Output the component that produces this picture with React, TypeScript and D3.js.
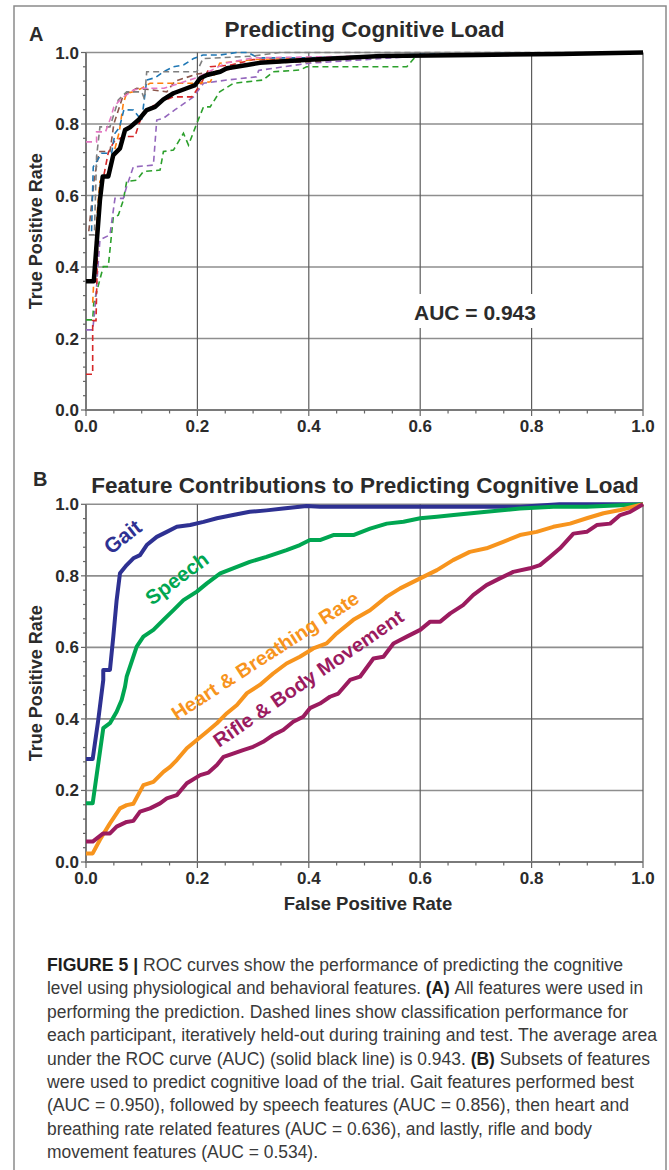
import React from "react";
import * as d3 from "d3";

type Pt = [number, number];

// ---------- Panel A data ----------
const meanROC: Pt[] = [[0,0.36],[0.014,0.36],[0.025,0.587],[0.03,0.653],[0.04,0.653],[0.049,0.713],[0.061,0.732],[0.07,0.783],[0.079,0.791],[0.094,0.811],[0.109,0.839],[0.124,0.848],[0.139,0.869],[0.157,0.886],[0.181,0.9],[0.196,0.909],[0.205,0.928],[0.217,0.937],[0.241,0.946],[0.253,0.956],[0.289,0.965],[0.312,0.971],[0.4,0.98],[0.53,0.99],[0.7,0.993],[0.85,0.996],[1,1]];

const participantGreen: Pt[] = [[0,0.252],[0.012,0.252],[0.014,0.3],[0.031,0.401],[0.04,0.401],[0.049,0.54],[0.058,0.545],[0.067,0.587],[0.073,0.639],[0.091,0.643],[0.103,0.667],[0.133,0.671],[0.139,0.723],[0.157,0.727],[0.175,0.774],[0.184,0.741],[0.199,0.802],[0.211,0.848],[0.223,0.848],[0.24,0.89],[0.265,0.914],[0.318,0.923],[0.336,0.946],[0.384,0.951],[0.396,0.96],[0.576,0.96],[0.594,0.993],[0.8,0.993],[1,1]];
const participantPurple: Pt[] = [[0,0.224],[0.012,0.224],[0.016,0.28],[0.025,0.476],[0.043,0.49],[0.052,0.592],[0.067,0.592],[0.073,0.625],[0.085,0.68],[0.121,0.685],[0.127,0.811],[0.139,0.816],[0.16,0.84],[0.193,0.876],[0.211,0.914],[0.253,0.923],[0.306,0.932],[0.31,0.95],[0.4,0.97],[0.6,0.99],[0.7,0.99],[1,1]];
const participantRed: Pt[] = [[0,0.1],[0.012,0.1],[0.012,0.25],[0.018,0.25],[0.022,0.55],[0.03,0.64],[0.04,0.72],[0.05,0.75],[0.067,0.765],[0.088,0.765],[0.095,0.8],[0.103,0.83],[0.127,0.858],[0.157,0.876],[0.19,0.876],[0.205,0.909],[0.223,0.96],[0.26,0.965],[0.3,0.98],[0.42,0.98],[0.5,0.99],[1,1]];
const participantBrown: Pt[] = [[0.005,0.5],[0.015,0.65],[0.022,0.709],[0.025,0.723],[0.043,0.723],[0.05,0.8],[0.067,0.881],[0.079,0.89],[0.091,0.9],[0.12,0.895],[0.145,0.89],[0.16,0.92],[0.2,0.94],[0.25,0.95],[0.3,0.97],[0.42,0.975],[0.45,0.985],[0.6,0.99],[1,1]];
const participantOrange: Pt[] = [[0.012,0.3],[0.02,0.55],[0.025,0.64],[0.035,0.643],[0.049,0.713],[0.06,0.78],[0.067,0.858],[0.073,0.886],[0.085,0.89],[0.1,0.9],[0.115,0.914],[0.2,0.914],[0.223,0.918],[0.235,0.951],[0.24,0.97],[0.3,0.98],[0.5,0.99],[1,1]];
const participantBlue: Pt[] = [[0.01,0.5],[0.013,0.68],[0.028,0.718],[0.046,0.718],[0.052,0.774],[0.06,0.79],[0.068,0.84],[0.085,0.839],[0.1,0.81],[0.109,0.923],[0.125,0.93],[0.139,0.946],[0.157,0.96],[0.175,0.965],[0.193,0.983],[0.21,0.993],[0.24,0.993],[0.27,1],[0.29,1],[0.31,0.985],[0.4,0.985],[0.6,0.995],[1,1]];
const participantGray: Pt[] = [[0.005,0.49],[0.015,0.49],[0.019,0.709],[0.025,0.792],[0.043,0.792],[0.058,0.867],[0.073,0.89],[0.1,0.89],[0.105,0.87],[0.109,0.946],[0.199,0.946],[0.21,0.983],[0.3,0.99],[0.348,1],[1,1]];
const participantPink: Pt[] = [[0,0.75],[0.019,0.75],[0.019,0.778],[0.035,0.778],[0.045,0.82],[0.05,0.848],[0.064,0.872],[0.085,0.895],[0.1,0.9],[0.14,0.9],[0.2,0.93],[0.25,0.97],[0.3,0.985],[0.5,0.99],[1,1]];

const participants: [Pt[], string][] = [
  [participantGreen, "#2ca02c"],
  [participantPurple, "#9467bd"],
  [participantRed, "#d62728"],
  [participantBrown, "#8c564b"],
  [participantOrange, "#ff7f0e"],
  [participantBlue, "#1f77b4"],
  [participantGray, "#7f7f7f"],
  [participantPink, "#e377c2"],
];

// ---------- Panel B data ----------
const gaitROC: Pt[] = [[0,0.288],[0.012,0.288],[0.022,0.397],[0.031,0.509],[0.031,0.537],[0.043,0.537],[0.049,0.63],[0.055,0.732],[0.061,0.807],[0.073,0.83],[0.085,0.849],[0.097,0.858],[0.109,0.886],[0.127,0.909],[0.145,0.923],[0.163,0.937],[0.187,0.942],[0.211,0.951],[0.235,0.961],[0.264,0.97],[0.294,0.979],[0.324,0.983],[0.354,0.988],[0.396,0.995],[0.42,0.993],[0.6,0.993],[0.78,0.993],[0.85,1],[1,1]];
const speechROC: Pt[] = [[0,0.164],[0.012,0.164],[0.031,0.374],[0.043,0.388],[0.055,0.42],[0.064,0.453],[0.07,0.49],[0.073,0.518],[0.091,0.602],[0.103,0.63],[0.121,0.649],[0.139,0.677],[0.157,0.704],[0.175,0.732],[0.199,0.756],[0.217,0.779],[0.241,0.807],[0.264,0.821],[0.294,0.839],[0.324,0.853],[0.36,0.872],[0.384,0.886],[0.402,0.9],[0.42,0.9],[0.444,0.914],[0.48,0.914],[0.51,0.932],[0.54,0.946],[0.57,0.951],[0.6,0.961],[0.63,0.965],[0.66,0.97],[0.719,0.979],[0.779,0.988],[0.839,0.993],[0.899,0.993],[1,1]];
const heartROC: Pt[] = [[0,0.024],[0.012,0.024],[0.025,0.062],[0.043,0.108],[0.061,0.15],[0.073,0.159],[0.085,0.163],[0.103,0.215],[0.121,0.224],[0.139,0.252],[0.151,0.266],[0.163,0.285],[0.181,0.318],[0.199,0.341],[0.217,0.364],[0.235,0.388],[0.253,0.416],[0.271,0.439],[0.289,0.472],[0.312,0.495],[0.336,0.527],[0.36,0.555],[0.384,0.574],[0.408,0.597],[0.432,0.611],[0.45,0.639],[0.48,0.677],[0.51,0.704],[0.54,0.742],[0.564,0.765],[0.6,0.793],[0.63,0.816],[0.659,0.844],[0.689,0.867],[0.719,0.877],[0.749,0.895],[0.779,0.914],[0.809,0.923],[0.839,0.937],[0.869,0.946],[0.899,0.961],[0.929,0.975],[0.959,0.984],[1,1]];
const rifleROC: Pt[] = [[0,0.057],[0.012,0.057],[0.031,0.08],[0.043,0.08],[0.055,0.099],[0.073,0.112],[0.085,0.115],[0.097,0.141],[0.115,0.15],[0.133,0.164],[0.145,0.178],[0.163,0.187],[0.181,0.22],[0.205,0.243],[0.22,0.25],[0.235,0.271],[0.247,0.294],[0.264,0.303],[0.282,0.313],[0.3,0.322],[0.318,0.336],[0.336,0.355],[0.354,0.369],[0.372,0.392],[0.39,0.406],[0.402,0.43],[0.42,0.443],[0.438,0.462],[0.453,0.471],[0.474,0.509],[0.492,0.518],[0.516,0.569],[0.534,0.574],[0.552,0.611],[0.576,0.63],[0.6,0.649],[0.618,0.672],[0.636,0.672],[0.654,0.695],[0.677,0.718],[0.695,0.746],[0.719,0.774],[0.743,0.793],[0.767,0.811],[0.797,0.821],[0.815,0.83],[0.833,0.853],[0.851,0.877],[0.875,0.918],[0.899,0.923],[0.917,0.942],[0.941,0.946],[0.959,0.97],[0.977,0.979],[1,1]];

const featureNames = ["Gait", "Speech", "Heart & Breathing Rate", "Rifle & Body Movement"];
const featureColors = ["#2e3192", "#00a651", "#f7941d", "#9b1b5f"];
const featureCurves = [gaitROC, speechROC, heartROC, rifleROC];

// ---------- Axis ticks ----------
const majorTicks = [0, 0.2, 0.4, 0.6, 0.8, 1.0];
const tickLabels = ["0.0", "0.2", "0.4", "0.6", "0.8", "1.0"];

// ---------- Caption ----------
const captionLines: [string, boolean][][] = [
  [["FIGURE 5 | ", true], ["ROC curves show the performance of predicting the cognitive", false]],
  [["level using physiological and behavioral features. ", false], ["(A)", true], [" All features were used in", false]],
  [["performing the prediction. Dashed lines show classification performance for", false]],
  [["each participant, iteratively held-out during training and test. The average area", false]],
  [["under the ROC curve (AUC) (solid black line) is 0.943. ", false], ["(B)", true], [" Subsets of features", false]],
  [["were used to predict cognitive load of the trial. Gait features performed best", false]],
  [["(AUC = 0.950), followed by speech features (AUC = 0.856), then heart and", false]],
  [["breathing rate related features (AUC = 0.636), and lastly, rifle and body", false]],
  [["movement features (AUC = 0.534).", false]],
];
const captionLineEnds = [623, 643, 628, 657, 650, 634, 629, 592, 318];

const FONT = "'Liberation Sans', Arial, Helvetica, sans-serif";
const TXT = "#2b2b2b";
const CAP_X = 47;
const CAP_SIZE = 17.5;

let measureCtx: CanvasRenderingContext2D | null = null;
function measure(s: string, bold: boolean, size: number): number {
  if (!measureCtx) {
    const c = document.createElement("canvas");
    measureCtx = c.getContext("2d");
  }
  if (!measureCtx) return s.length * size * 0.5;
  measureCtx.font = `${bold ? "bold" : "normal"} ${size}px 'Liberation Sans', Arial, sans-serif`;
  return measureCtx.measureText(s).width;
}

function Axes({ x, y }: { x: d3.ScaleLinear<number, number>; y: d3.ScaleLinear<number, number> }) {
  const xMinor = d3.range(0, 21).map((i) => i / 20);
  const yMinor = d3.range(0, 26).map((i) => i / 25);
  const isMajor = (v: number) => majorTicks.some((t) => Math.abs(t - v) < 1e-6);
  return (
    <g>
      {majorTicks.filter((t) => t > 0).map((t) => (
        <line key={"gy" + t} x1={x(0)} x2={x(1)} y1={y(t)} y2={y(t)} stroke="#8e8e8e" strokeWidth={1.6} />
      ))}
      {majorTicks.filter((t) => t > 0).map((t) => (
        <line key={"gx" + t} x1={x(t)} x2={x(t)} y1={y(0)} y2={y(1)} stroke="#5c5c5c" strokeWidth={1.2} />
      ))}
      <line x1={x(0)} x2={x(0)} y1={y(0) + 1} y2={y(1)} stroke="#7a7a7a" strokeWidth={2} />
      <line x1={x(0)} x2={x(1)} y1={y(0)} y2={y(0)} stroke="#7a7a7a" strokeWidth={2} />
      {xMinor.map((t) => (
        <line key={"tx" + t} x1={x(t)} x2={x(t)} y1={y(0)} y2={y(0) + (isMajor(t) ? 6 : 3.5)} stroke="#666" strokeWidth={1.2} />
      ))}
      {yMinor.map((t) => (
        <line key={"ty" + t} x1={x(0)} x2={x(0) - (isMajor(t) ? 5 : 3)} y1={y(t)} y2={y(t)} stroke="#666" strokeWidth={1.2} />
      ))}
      {majorTicks.map((t, i) => (
        <text key={"lx" + t} x={x(t)} y={y(0) + 22} textAnchor="middle" fontFamily={FONT} fontWeight="bold" fontSize={17} fill={TXT}>
          {tickLabels[i]}
        </text>
      ))}
      {majorTicks.map((t, i) => (
        <text key={"ly" + t} x={x(0) - 7} y={y(t) + 6} textAnchor="end" fontFamily={FONT} fontWeight="bold" fontSize={17} fill={TXT}>
          {tickLabels[i]}
        </text>
      ))}
    </g>
  );
}

function Caption() {
  const items: React.ReactNode[] = [];
  captionLines.forEach((parts, i) => {
    const widths = parts.map(([s, b]) => measure(s, b, CAP_SIZE));
    const total = widths.reduce((a, b) => a + b, 0) - measure(parts[parts.length - 1][0].match(/\s*$/)![0], false, CAP_SIZE);
    const scale = (captionLineEnds[i] - CAP_X) / total;
    let acc = 0;
    const yy = 971 + i * 23.4;
    parts.forEach(([s, b], j) => {
      const lead = s.match(/^\s*/)![0];
      const trimmed = s.trim();
      const leadW = measure(lead, b, CAP_SIZE);
      const w = measure(trimmed, b, CAP_SIZE);
      const x0 = CAP_X + (acc + leadW) * scale;
      items.push(
        <text
          key={`c${i}-${j}`}
          x={x0}
          y={yy}
          fontFamily={FONT}
          fontSize={CAP_SIZE}
          fontWeight={b ? "bold" : "normal"}
          fill={b ? "#1e1e1e" : "#3a3a3a"}
          textLength={w * scale}
          lengthAdjust="spacingAndGlyphs"
        >
          {trimmed}
        </text>
      );
      acc += widths[j];
    });
  });
  return <g>{items}</g>;
}

export default function App() {
  const xA = d3.scaleLinear().domain([0, 1]).range([86, 643]);
  const yA = d3.scaleLinear().domain([0, 1]).range([410, 52.5]);
  const xB = d3.scaleLinear().domain([0, 1]).range([86, 643]);
  const yB = d3.scaleLinear().domain([0, 1]).range([862, 504.3]);

  const lineA = d3.line<Pt>().x((d) => xA(d[0])).y((d) => yA(d[1]));
  const lineB = d3.line<Pt>().x((d) => xB(d[0])).y((d) => yB(d[1]));

  const labelPos: { x: number; y: number; a: number; len: number | null; size: number }[] = [
    { x: 111, y: 555, a: -38, len: null, size: 21 },
    { x: 152, y: 606, a: -37, len: null, size: 20.5 },
    { x: 177, y: 721, a: -33, len: 219, size: 19.5 },
    { x: 219, y: 748, a: -34.5, len: 226, size: 19.5 },
  ];

  return (
    <svg width={669} height={1170} style={{ position: "absolute", left: 0, top: 0, background: "#fff" }}>
      <rect x={0} y={0} width={669} height={1170} fill="#fff" />
      <rect x={14} y={6} width={652} height={1200} fill="none" stroke="#8a8a8a" strokeWidth={1.5} />

      {/* Panel A */}
      <text x={29} y={41} fontFamily={FONT} fontWeight="bold" fontSize={20} fill={TXT}>A</text>
      <text x={364.5} y={37} textAnchor="middle" fontFamily={FONT} fontWeight="bold" fontSize={22.6} fill={TXT}>
        Predicting Cognitive Load
      </text>
      <Axes x={xA} y={yA} />
      <rect x={411} y={294} width={130} height={34} fill="#fff" />
      <text x={414} y={320} fontFamily={FONT} fontWeight="bold" fontSize={21} fill={TXT}>AUC = 0.943</text>
      {participants.map(([d, c], i) => (
        <path key={"p" + i} d={lineA(d) || ""} fill="none" stroke={c} strokeWidth={1.6} strokeDasharray="6 4" />
      ))}
      <path d={lineA(meanROC) || ""} fill="none" stroke="#000" strokeWidth={4.5} strokeLinejoin="round" />
      <text transform={`translate(41.5,${(yA(0) + yA(1)) / 2}) rotate(-90)`} textAnchor="middle" fontFamily={FONT} fontWeight="bold" fontSize={18} fill={TXT}>
        True Positive Rate
      </text>

      {/* Panel B */}
      <text x={33} y={486} fontFamily={FONT} fontWeight="bold" fontSize={20} fill={TXT}>B</text>
      <text x={365} y={493} textAnchor="middle" fontFamily={FONT} fontWeight="bold" fontSize={22.5} fill={TXT}>
        Feature Contributions to Predicting Cognitive Load
      </text>
      <Axes x={xB} y={yB} />
      {featureCurves.map((d, i) => (
        <path key={"f" + i} d={lineB(d) || ""} fill="none" stroke={featureColors[i]} strokeWidth={4} strokeLinejoin="round" />
      ))}
      {featureNames.map((n, i) => {
        const p = labelPos[i];
        const extra = p.len ? { textLength: p.len, lengthAdjust: "spacingAndGlyphs" } : {};
        return (
          <text
            key={"n" + i}
            transform={`translate(${p.x},${p.y}) rotate(${p.a})`}
            fontFamily={FONT}
            fontWeight="bold"
            fontSize={p.size}
            fill={featureColors[i]}
            {...extra}
          >
            {n}
          </text>
        );
      })}
      <text transform={`translate(41.5,${(yB(0) + yB(1)) / 2}) rotate(-90)`} textAnchor="middle" fontFamily={FONT} fontWeight="bold" fontSize={18} fill={TXT}>
        True Positive Rate
      </text>
      <text x={368} y={910} textAnchor="middle" fontFamily={FONT} fontWeight="bold" fontSize={18.5} fill={TXT}>
        False Positive Rate
      </text>

      <Caption />
    </svg>
  );
}
